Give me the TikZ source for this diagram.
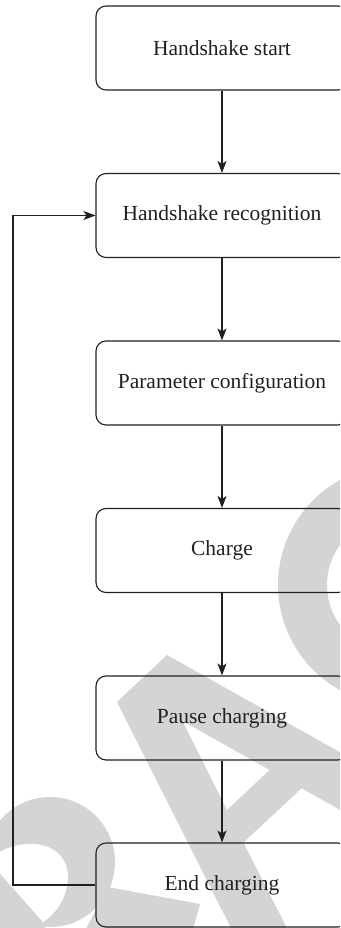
\documentclass[tikz,border=0pt]{standalone}
\usepackage{fontspec}
\setmainfont{Liberation Serif}
\usetikzlibrary{arrows.meta}
\definecolor{ink}{HTML}{231F20}
\definecolor{wmgrey}{RGB}{212,212,212}
\tikzset{
  stepbox/.style={draw=ink, line width=1.1pt, rounded corners=10pt,
    minimum width=252pt, minimum height=84pt, inner sep=0pt,
    text=ink, font=\fontsize{21.5}{24}\selectfont},
  flow/.style={draw=ink, line width=1.1pt,
    -{Stealth[length=12pt,width=9pt,inset=3pt]}},
  wm/.style={fill=wmgrey, draw=none}
}
\begin{document}
\begin{tikzpicture}[x=1pt,y=-1pt]
\useasboundingbox (0,0) rectangle (340,928);
\clip (0,0) rectangle (340,928);

% background watermark letters
\fill[wm, even odd rule] (398,585) circle[radius=120pt] (395,585) circle[radius=68pt];
\fill[wm, even odd rule] (117,702) -- (167,655) -- (400,786) -- (400,843.5)
  -- (301.6,788.3) -- (243.4,842.5) -- (293,940) -- (237,940) -- cycle
  (182.5,721) -- (269.6,770) -- (227,810) -- cycle;
\fill[wm] (50,862) circle[radius=65pt];
\fill[wm] (-20,850) -- (60,945) -- (-20,945) -- cycle;
\fill[wm] (108,887) -- (200,904) -- (190,940) -- (80,940) -- cycle;
\fill[white] (-12,860) -- (43,922) .. controls (70,905) and (80,860) .. (48,847)
  .. controls (30,840) and (5,845) .. (-12,860) -- cycle;

% process steps
\node[stepbox] (start) at (222,48)    {Handshake start};
\node[stepbox] (recog) at (222,215.5) {Handshake recognition};
\node[stepbox] (param) at (222,383)   {Parameter configuration};
\node[stepbox] (charge) at (222,550.5) {Charge};
\node[stepbox] (pause) at (222,718)   {Pause charging};
\node[stepbox] (endc) at (222,885)    {End charging};

% forward flow
\draw[flow] (start.south) -- (recog.north);
\draw[flow] (recog.south) -- (param.north);
\draw[flow] (param.south) -- (charge.north);
\draw[flow] (charge.south) -- (pause.north);
\draw[flow] (pause.south) -- (endc.north);

% return path to recognition
\coordinate (loopx) at (13,0);
\draw[flow] (endc.west) -- (endc.west -| loopx) |- (recog.west);
\end{tikzpicture}
\end{document}
